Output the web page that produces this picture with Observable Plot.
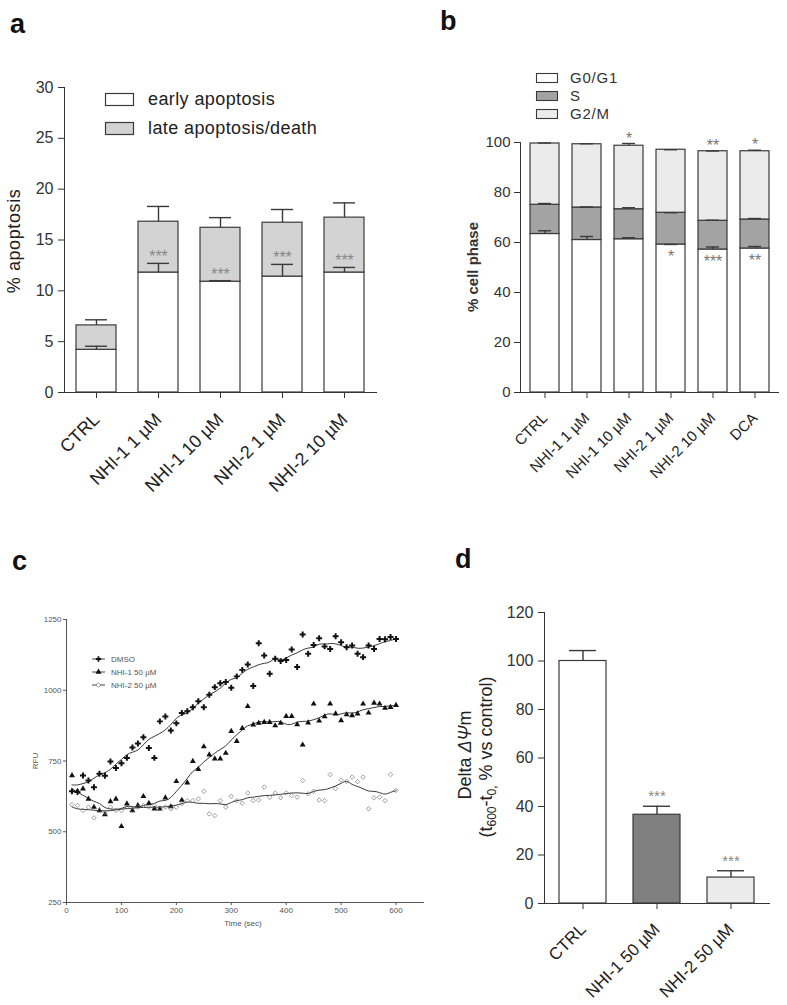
<!DOCTYPE html>
<html><head><meta charset="utf-8">
<script src="https://cdn.jsdelivr.net/npm/d3@7"></script>
<script src="https://cdn.jsdelivr.net/npm/@observablehq/plot@0.6"></script>
<style>
html,body{margin:0;padding:0;background:#fff;}
#root{position:relative;width:787px;height:1005px;overflow:hidden;font-family:"Liberation Sans",Arial,sans-serif;}
</style></head><body><div id="root"></div>
<script>
// ---------- Panel a data ----------
const catsA = ["CTRL", "NHI-1 1 µM", "NHI-1 10 µM", "NHI-2 1 µM", "NHI-2 10 µM"];
const earlyA = [4.2, 11.8, 10.9, 11.4, 11.8];
const earlySemA = [0.35, 0.9, 0.1, 1.2, 0.5];
const lateA = [2.4, 5.0, 5.3, 5.3, 5.4];
const lateSemA = [0.55, 1.5, 1.0, 1.3, 1.45];
const starsA = ["", "***", "***", "***", "***"];
const yTicksA = [0, 5, 10, 15, 20, 25, 30];

// ---------- Panel b data ----------
const catsB = ["CTRL", "NHI-1 1 µM", "NHI-1 10 µM", "NHI-2 1 µM", "NHI-2 10 µM", "DCA"];
const g0g1 = [63.4, 61.0, 61.3, 59.2, 57.2, 57.6];
const g0g1Sem = [1.3, 1.4, 0.6, 0, 1.0, 0.8];
const sPhase = [11.7, 13.0, 12.0, 12.7, 11.5, 11.6];
const sSem = [0.5, 0.2, 0.6, 0, 0.2, 0.4];
const g2m = [24.5, 25.3, 25.4, 25.2, 27.8, 27.3];
const g2mSem = [0.2, 0.2, 0.9, 0, 0.1, 0.4];
const starsBTop = ["", "", "*", "", "**", "*"];
const starsBLow = ["", "", "", "*", "***", "**"];
const yTicksB = [0, 20, 40, 60, 80, 100];

// ---------- Panel c data ----------
const timeSec = [10,20,30,40,50,60,70,80,90,100,110,120,130,140,150,160,170,180,190,200,210,220,230,240,250,260,270,280,290,300,310,320,330,340,350,360,370,380,390,400,410,420,430,440,450,460,470,480,490,500,510,520,530,540,550,560,570,580,590,600];
const dmsoRFU = [643,640,699,681,657,705,698,748,725,742,761,798,812,834,796,761,890,907,858,883,920,926,940,961,940,984,1011,1025,1029,1009,1049,1072,1091,1015,1166,1123,1058,1111,1103,1107,1144,1082,1197,1129,1160,1184,1155,1146,1191,1170,1152,1158,1129,1117,1158,1146,1181,1180,1188,1181];
const nhi1RFU = [699,643,652,616,587,575,561,607,616,519,599,575,593,625,601,581,581,620,589,678,612,673,749,721,801,772,758,758,778,855,820,866,943,878,884,887,887,875,884,908,908,879,807,885,952,892,907,952,917,893,914,911,917,952,920,955,952,937,940,947];
const nhi2RFU = [596,593,575,587,549,575,569,587,575,575,587,575,587,593,587,593,581,587,581,587,599,610,610,616,643,563,557,610,587,625,610,601,637,610,612,658,622,637,620,637,628,622,681,634,643,612,610,702,652,683,678,693,677,693,581,620,622,610,702,646];
const seriesC = ["DMSO", "NHI-1 50 µM", "NHI-2 50 µM"];
const xTicksC = [0, 100, 200, 300, 400, 500, 600];
const yTicksC = [250, 500, 750, 1000, 1250];

// ---------- Panel d data ----------
const catsD = ["CTRL", "NHI-1 50 µM", "NHI-2 50 µM"];
const deltaD = [100, 36.6, 10.7];
const semD = [4.3, 3.5, 2.8];
const starsD = ["", "***", "***"];
const yTicksD = [0, 20, 40, 60, 80, 100, 120];

// ---------- styles ----------
const FONT = '"Liberation Sans", Arial, sans-serif';
const INK = "#3a3a3a";
const fillD = {"CTRL": "#ffffff", "NHI-1 50 µM": "#808080", "NHI-2 50 µM": "#ebebeb"};
const root = document.getElementById("root");
function place(el, left, top) {
  el.style.position = "absolute";
  el.style.left = left + "px";
  el.style.top = top + "px";
  root.appendChild(el);
}
function baseStyle(size) {
  return {fontFamily: FONT, fontSize: size + "px", color: "#333", background: "none", overflow: "visible"};
}
function xLabelSize(svg, size, color) {
  svg.querySelectorAll('g[aria-label^="x-axis"] text').forEach(t => {
    t.style.fontSize = size + "px";
    if (color) t.style.fill = color;
  });
}

// ---------- Panel a ----------
const rowsA = catsA.map((cat, i) => ({
  cat,
  early: earlyA[i],
  earlyTop: earlyA[i] + earlySemA[i],
  total: earlyA[i] + lateA[i],
  totalTop: earlyA[i] + lateA[i] + lateSemA[i],
  star: starsA[i]
}));
const plotA = Plot.plot({
  width: 386, height: 502, marginLeft: 64, marginRight: 10, marginTop: 87, marginBottom: 110,
  style: baseStyle(16),
  x: {type: "band", domain: catsA, paddingInner: 0.355, paddingOuter: 0.19, tickRotate: -45, tickSize: 6, tickPadding: 18, label: null, line: true},
  y: {domain: [0, 30], ticks: yTicksA, tickSize: 6, tickPadding: 5, label: null, line: true},
  marks: [
    Plot.barY(rowsA, {x: "cat", y1: 0, y2: "early", fill: "#fff", stroke: INK, strokeWidth: 1.2}),
    Plot.barY(rowsA, {x: "cat", y1: "early", y2: "total", fill: "#d3d3d3", stroke: INK, strokeWidth: 1.2}),
    Plot.ruleX(rowsA, {x: "cat", y1: "early", y2: "earlyTop", stroke: INK, strokeWidth: 1.4}),
    Plot.tickY(rowsA, {x: "cat", y: "earlyTop", insetLeft: 9, insetRight: 9, stroke: INK, strokeWidth: 1.4}),
    Plot.ruleX(rowsA, {x: "cat", y1: "total", y2: "totalTop", stroke: INK, strokeWidth: 1.4}),
    Plot.tickY(rowsA, {x: "cat", y: "totalTop", insetLeft: 9, insetRight: 9, stroke: INK, strokeWidth: 1.4}),
    Plot.text(rowsA, {x: "cat", y: "earlyTop", text: "star", dy: -1, lineAnchor: "bottom", fill: "#888", fontSize: 16})
  ]
});
xLabelSize(plotA, 18, "#222");
place(plotA, 0, 0);

// ---------- Panel b ----------
const rowsB = catsB.map((cat, i) => ({
  cat,
  g0: g0g1[i],
  g0Top: g0g1[i] + g0g1Sem[i],
  s: g0g1[i] + sPhase[i],
  sTop: g0g1[i] + sPhase[i] + sSem[i],
  tot: g0g1[i] + sPhase[i] + g2m[i],
  totTop: g0g1[i] + sPhase[i] + g2m[i] + g2mSem[i],
  starTop: starsBTop[i],
  starLow: starsBLow[i]
}));
const errMarks = (rows, lo, hi, inset) => [
  Plot.ruleX(rows, {x: "cat", y1: lo, y2: hi, stroke: INK, strokeWidth: 1.4}),
  Plot.tickY(rows, {x: "cat", y: hi, insetLeft: inset, insetRight: inset, stroke: INK, strokeWidth: 1.4})
];
const plotB = Plot.plot({
  width: 384, height: 502, marginLeft: 120, marginRight: 6, marginTop: 142, marginBottom: 110,
  style: baseStyle(15),
  x: {type: "band", domain: catsB, paddingInner: 0.32, paddingOuter: 0.19, tickRotate: -45, tickSize: 6, tickPadding: 17, label: null, line: true},
  y: {domain: [0, 100], ticks: yTicksB, tickSize: 6, tickPadding: 4, label: null, line: true},
  marks: [
    Plot.barY(rowsB, {x: "cat", y1: 0, y2: "g0", fill: "#fff", stroke: INK, strokeWidth: 1.2}),
    Plot.barY(rowsB, {x: "cat", y1: "g0", y2: "s", fill: "#a3a3a3", stroke: INK, strokeWidth: 1.2}),
    Plot.barY(rowsB, {x: "cat", y1: "s", y2: "tot", fill: "#ebebeb", stroke: INK, strokeWidth: 1.2}),
    ...errMarks(rowsB, "g0", "g0Top", 8),
    ...errMarks(rowsB, "s", "sTop", 8),
    ...errMarks(rowsB, "tot", "totTop", 8),
    Plot.text(rowsB, {x: "cat", y: "totTop", text: "starTop", dy: 0, lineAnchor: "bottom", fill: "#777", fontSize: 16}),
    Plot.text(rowsB, {x: "cat", y: "g0", text: "starLow", dy: 6, lineAnchor: "top", fill: "#777", fontSize: 16})
  ]
});
xLabelSize(plotB, 15, "#222");
place(plotB, 400, 0);

// ---------- Panel c ----------
const rowsC = [];
[dmsoRFU, nhi1RFU, nhi2RFU].forEach((arr, k) => arr.forEach((v, i) => rowsC.push({s: seriesC[k], t: timeSec[i], v})));
const plotC = Plot.plot({
  width: 433, height: 382, marginLeft: 66, marginRight: 10, marginTop: 59, marginBottom: 40,
  style: {...baseStyle(8), color: "#555"},
  x: {domain: [0, 650], ticks: xTicksC, tickSize: 3, tickPadding: 2, label: null, line: true},
  y: {domain: [250, 1250], ticks: yTicksC, tickSize: 3, tickPadding: 2, label: null, line: true, tickFormat: "d"},
  marks: [
    Plot.lineY(rowsC, Plot.windowY({k: 7, reduce: "mean"}, {x: "t", y: "v", z: "s", stroke: "#222", strokeWidth: 0.9, curve: "basis"})),
    Plot.dot(rowsC.filter(d => d.s === seriesC[0]), {x: "t", y: "v", symbol: "cross", r: 2.5, fill: "#111", stroke: "none"}),
    Plot.dot(rowsC.filter(d => d.s === seriesC[1]), {x: "t", y: "v", symbol: "triangle", r: 2.2, fill: "#111", stroke: "none"}),
    Plot.dot(rowsC.filter(d => d.s === seriesC[2]), {x: "t", y: "v", symbol: "diamond2", r: 2.0, fill: "none", stroke: "#777", strokeWidth: 0.7})
  ]
});
place(plotC, 0, 560);

// ---------- Panel d ----------
const rowsD = catsD.map((cat, i) => ({cat, v: deltaD[i], top: deltaD[i] + semD[i], star: starsD[i]}));
const plotD = Plot.plot({
  width: 359, height: 443, marginLeft: 124, marginRight: 10, marginTop: 52, marginBottom: 100,
  style: baseStyle(16),
  color: {type: "identity"},
  x: {type: "band", domain: catsD, paddingInner: 0.36, paddingOuter: 0.187, tickRotate: -45, tickSize: 6, tickPadding: 17, label: null, line: true},
  y: {domain: [0, 120], ticks: yTicksD, tickSize: 6, tickPadding: 5, label: null, line: true},
  marks: [
    Plot.barY(rowsD, {x: "cat", y1: 0, y2: "v", fill: d => fillD[d.cat], stroke: INK, strokeWidth: 1.2}),
    ...errMarks(rowsD, "v", "top", 10),
    Plot.text(rowsD, {x: "cat", y: "top", text: "star", dy: -5, lineAnchor: "bottom", fill: "#888", fontSize: 15})
  ]
});
xLabelSize(plotD, 17, "#222");
place(plotD, 420, 560);

// ---------- Overlay: titles, legends, axis labels ----------
const ov = d3.create("svg").attr("width", 787).attr("height", 1005)
  .style("position", "absolute").style("left", "0px").style("top", "0px")
  .style("pointer-events", "none").style("font-family", FONT);
root.appendChild(ov.node());
const txt = (x, y, s, size, opts = {}) => {
  const t = ov.append("text").attr("x", x).attr("y", y).attr("font-size", size).attr("fill", opts.fill || "#222").text(s);
  if (opts.weight) t.attr("font-weight", opts.weight);
  if (opts.anchor) t.attr("text-anchor", opts.anchor);
  if (opts.ls) t.attr("letter-spacing", opts.ls);
  if (opts.rot) t.attr("transform", `rotate(-90 ${x} ${y})`);
  return t;
};
// panel letters
txt(10, 33, "a", 27, {weight: "bold", fill: "#111"});
txt(440, 30, "b", 27, {weight: "bold", fill: "#111"});
txt(12, 570, "c", 27, {weight: "bold", fill: "#111"});
txt(455, 568, "d", 27, {weight: "bold", fill: "#111"});

// legend a
const legA = [["early apoptosis", "#ffffff"], ["late apoptosis/death", "#d3d3d3"]];
legA.forEach(([lab, col], i) => {
  ov.append("rect").attr("x", 105.5).attr("y", 93.5 + i * 29).attr("width", 28).attr("height", 12).attr("fill", col).attr("stroke", INK).attr("stroke-width", 1.2);
  txt(148, 105 + i * 29, lab, 18, {ls: 0.4});
});
// y label a
txt(20, 241, "% apoptosis", 18, {anchor: "middle", rot: true, ls: 0.6});

// legend b
const legB = [["G0/G1", "#ffffff"], ["S", "#a3a3a3"], ["G2/M", "#ebebeb"]];
legB.forEach(([lab, col], i) => {
  ov.append("rect").attr("x", 536.5).attr("y", [73.5, 91.5, 109.5][i]).attr("width", 21).attr("height", 9).attr("fill", col).attr("stroke", INK).attr("stroke-width", 1.1);
  txt(570, [83, 101, 119][i], lab, 15, {ls: 0.8, fill: "#333"});
});
txt(478, 267, "% cell phase", 15, {anchor: "middle", rot: true, weight: "bold", fill: "#333"});

// legend c
const symC = [d3.symbolCross, d3.symbolTriangle, d3.symbolDiamond2];
seriesC.forEach((lab, i) => {
  const y = 659 + i * 13;
  ov.append("line").attr("x1", 92).attr("x2", 105).attr("y1", y).attr("y2", y).attr("stroke", "#333").attr("stroke-width", 0.9);
  ov.append("path").attr("transform", `translate(98.5,${y})`).attr("d", d3.symbol(symC[i], i === 2 ? 14 : 16)())
    .attr("fill", i === 2 ? "#fff" : "#111").attr("stroke", i === 2 ? "#666" : "none").attr("stroke-width", 0.7);
  txt(111, y + 3, lab, 8, {fill: "#555"});
});
txt(38, 761, "RFU", 8, {anchor: "middle", rot: true, fill: "#555"});
txt(243, 926, "Time (sec)", 8, {anchor: "middle", fill: "#555"});

// y label d (two lines)
const l1 = txt(471, 755, "", 18, {anchor: "middle", rot: true});
l1.append("tspan").text("Delta ");
l1.append("tspan").attr("font-style", "italic").text("ΔΨ");
l1.append("tspan").text("m");
const l2 = txt(492, 757, "", 18, {anchor: "middle", rot: true});
l2.append("tspan").text("(t");
l2.append("tspan").attr("font-size", 12).attr("dy", 4).text("600");
l2.append("tspan").attr("dy", -4).text("-t");
l2.append("tspan").attr("font-size", 12).attr("dy", 4).text("0,");
l2.append("tspan").attr("dy", -4).text(" % vs control)");
</script></body></html>
